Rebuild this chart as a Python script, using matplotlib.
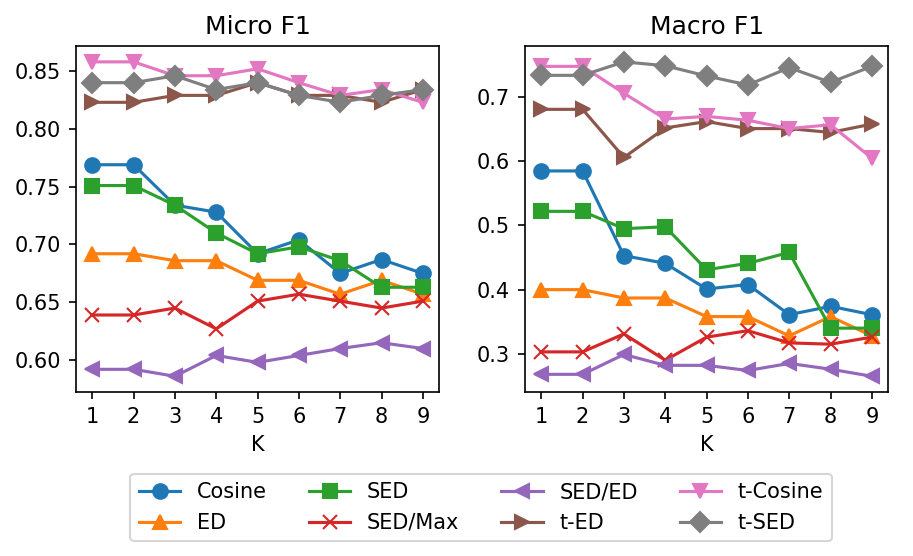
import matplotlib
matplotlib.use("Agg")
import matplotlib.pyplot as plt

# K values on the x axis
k_values = [1, 2, 3, 4, 5, 6, 7, 8, 9]

method_names = ["Cosine", "ED", "SED", "SED/Max", "SED/ED", "t-ED", "t-Cosine", "t-SED"]
method_markers = ["o", "^", "s", "x", "<", ">", "v", "D"]

# Micro F1 per method
micro_cosine = [0.769, 0.769, 0.734, 0.728, 0.692, 0.704, 0.675, 0.687, 0.675]
micro_ed = [0.692, 0.692, 0.686, 0.686, 0.669, 0.669, 0.657, 0.669, 0.657]
micro_sed = [0.751, 0.751, 0.734, 0.710, 0.692, 0.698, 0.686, 0.663, 0.663]
micro_sed_max = [0.639, 0.639, 0.645, 0.627, 0.651, 0.657, 0.651, 0.645, 0.651]
micro_sed_ed = [0.592, 0.592, 0.586, 0.604, 0.598, 0.604, 0.610, 0.615, 0.610]
micro_t_ed = [0.823, 0.823, 0.829, 0.829, 0.840, 0.829, 0.829, 0.823, 0.834]
micro_t_cosine = [0.858, 0.858, 0.846, 0.846, 0.852, 0.840, 0.829, 0.834, 0.823]
micro_t_sed = [0.840, 0.840, 0.846, 0.834, 0.840, 0.829, 0.823, 0.829, 0.834]

# Macro F1 per method
macro_cosine = [0.585, 0.585, 0.453, 0.441, 0.401, 0.408, 0.361, 0.374, 0.361]
macro_ed = [0.400, 0.400, 0.387, 0.387, 0.358, 0.358, 0.328, 0.358, 0.328]
macro_sed = [0.522, 0.522, 0.495, 0.498, 0.431, 0.441, 0.458, 0.340, 0.340]
macro_sed_max = [0.303, 0.303, 0.331, 0.290, 0.326, 0.336, 0.317, 0.315, 0.326]
macro_sed_ed = [0.268, 0.268, 0.299, 0.282, 0.282, 0.274, 0.285, 0.276, 0.265]
macro_t_ed = [0.681, 0.681, 0.606, 0.652, 0.662, 0.651, 0.651, 0.645, 0.658]
macro_t_cosine = [0.748, 0.748, 0.706, 0.666, 0.670, 0.664, 0.651, 0.657, 0.605]
macro_t_sed = [0.734, 0.734, 0.755, 0.749, 0.733, 0.719, 0.746, 0.723, 0.748]

micro_all = [micro_cosine, micro_ed, micro_sed, micro_sed_max,
             micro_sed_ed, micro_t_ed, micro_t_cosine, micro_t_sed]
macro_all = [macro_cosine, macro_ed, macro_sed, macro_sed_max,
             macro_sed_ed, macro_t_ed, macro_t_cosine, macro_t_sed]

fig, axes = plt.subplots(1, 2, figsize=(913 / 150, 556 / 150), dpi=150)
fig.subplots_adjust(left=0.083, right=0.973, top=0.917, bottom=0.295, wspace=0.235)

for ax, title, allData in zip(axes, ["Micro F1", "Macro F1"], [micro_all, macro_all]):
    for name, marker, vals in zip(method_names, method_markers, allData):
        ax.plot(k_values, vals, marker=marker, label=name, markersize=7)
    ax.set_title(title)
    ax.set_xlabel("K")
    ax.set_xticks(k_values)

handles, labels = axes[0].get_legend_handles_labels()
fig.legend(handles, labels, loc="lower center", ncol=4, bbox_to_anchor=(0.527, 0.008),
           columnspacing=2.0)

plt.savefig("out.png", dpi=150)
